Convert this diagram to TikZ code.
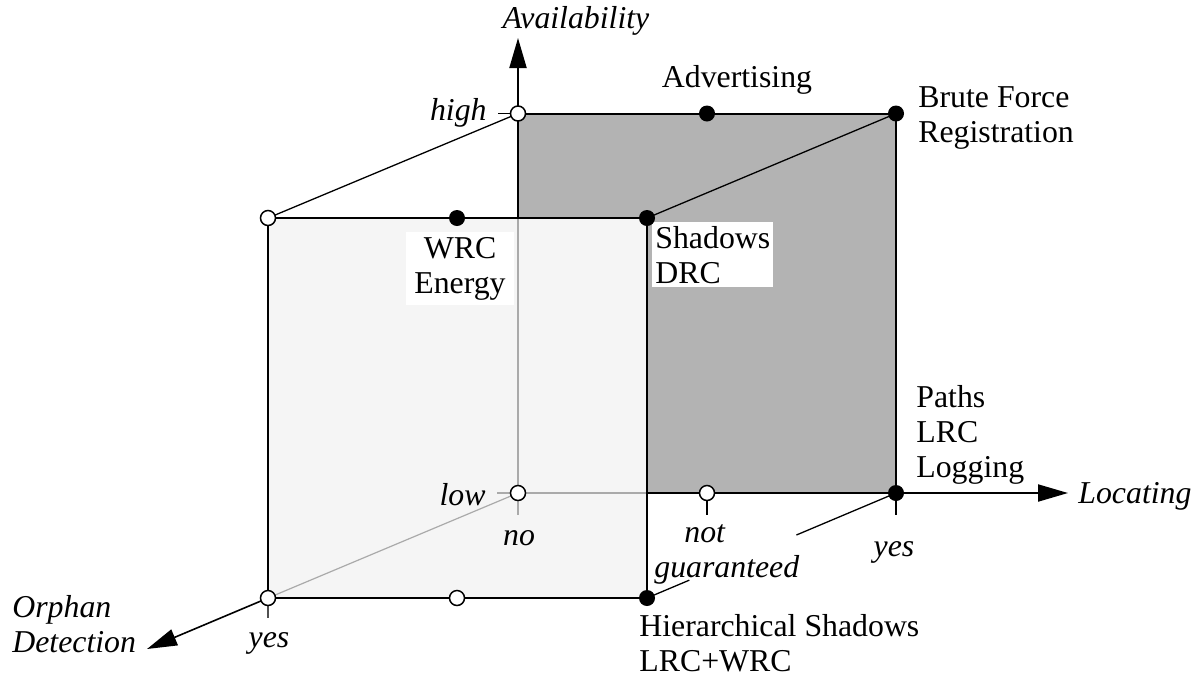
\documentclass[tikz,border=0pt]{standalone}
\usepackage{fontspec}
\setmainfont{Liberation Serif}
\usetikzlibrary{arrows.meta}
\definecolor{darkface}{RGB}{179,179,179}
\definecolor{lightface}{RGB}{245,245,245}
\definecolor{hidden}{RGB}{170,170,170}
\definecolor{tickgray}{RGB}{80,80,80}
\begin{document}
\begin{tikzpicture}[x=0.5pt,y=-0.5pt,
  every node/.style={font=\fontsize{15.9pt}{17.5pt}\selectfont, inner sep=0pt},
  opendot/.style={circle, draw=black, fill=white, line width=0.75pt, minimum size=7.5pt, inner sep=0pt},
  fulldot/.style={circle, fill=black, minimum size=8pt, inner sep=0pt},
  edgeline/.style={line width=1pt},
  diagline/.style={line width=0.65pt},
  hiddenline/.style={draw=hidden, line width=0.6pt},
  axisline/.style={line width=1pt, -{Triangle[length=15pt,width=8.5pt]}},
  tickline/.style={line width=0.8pt},
  lab/.style={align=left},
  itlab/.style={font=\fontsize{15.9pt}{17.5pt}\selectfont\itshape},
  whitebox/.style={fill=white}
]
\useasboundingbox (0,0) rectangle (1200,676);
% cube corners
\coordinate (ftl) at (268,218);
\coordinate (wrc) at (457,218);
\coordinate (shd) at (647,218);
\coordinate (fbl) at (268,598);
\coordinate (fbm) at (457,598);
\coordinate (fbr) at (647,598);
\coordinate (btl) at (518,113.5);
\coordinate (adv) at (707,113.5);
\coordinate (btr) at (896,113.5);
\coordinate (bbl) at (518,493);
\coordinate (bbm) at (707,493);
\coordinate (bbr) at (896,493);
\coordinate (fx) at (518,218);
\coordinate (bx) at (647,493);
% axis tips
\coordinate (avt) at (518,38);
\coordinate (loct) at (1068,493);
\coordinate (orpt) at (147,649);
% tick ends
\coordinate (hight) at (498,113.5);
\coordinate (lowt) at (497,493);
\coordinate (not) at (518,515);
\coordinate (ngt) at (707,515);
\coordinate (yesrt) at (896,515);
\coordinate (yeslt) at (268,618);
% gap in the lower right diagonal (behind the "not guaranteed" label)
\path (fbr) -- (bbr) coordinate[pos=0.17] (gapa) coordinate[pos=0.60] (gapb);

% faces
\fill[darkface] (btl) -- (btr) -- (bbr) -- (bx) -- (shd) -- (fx) -- cycle;
\fill[lightface] (ftl) rectangle (fbr);
% hidden edges
\draw[hiddenline] (fx) -- (bbl) -- (bx);
\draw[hiddenline] (fbl) -- (bbl);
% visible edges
\draw[edgeline] (fx) -- (btl) -- (btr) -- (bbr) -- (bx);
\draw[edgeline] (ftl) -- (shd) -- (fbr) -- (fbl) -- cycle;
\draw[diagline] (ftl) -- (btl);
\draw[diagline] (shd) -- (btr);
\draw[diagline] (fbr) -- (gapa);
\draw[diagline] (gapb) -- (bbr);
% axes
\draw[axisline] (btl) -- (avt);
\draw[axisline] (bbr) -- (loct);
\draw[axisline, line width=0.8pt] (fbl) -- (orpt);
% ticks
\draw[tickline] (hight) -- (btl);
\draw[tickline, draw=hidden] (lowt) -- (bbl);
\draw[tickline, draw=hidden] (bbl) -- (not);
\draw[tickline] (bbm) -- (ngt);
\draw[tickline] (bbr) -- (yesrt);
\draw[tickline, draw=tickgray] (fbl) -- (yeslt);

% labels (multi-line nodes: base anchor sits on the last line)
\node[itlab, anchor=base] (availability) at (576,28) {Availability};
\node[anchor=base] (advertising) at (737,87) {Advertising};
\node[lab, anchor=base west] (brute) at (918,142) {Brute Force\\Registration};
\node[lab, whitebox, anchor=base west, inner xsep=1.5pt, inner ysep=2pt] (shadows) at (652,283) {Shadows\\DRC};
\node[align=center, whitebox, anchor=base, inner xsep=4pt, inner ysep=2.5pt] (wrcenergy) at (460,293) {WRC\\Energy};
\node[lab, anchor=base west] (paths) at (916,477) {Paths\\LRC\\Logging};
\node[itlab, anchor=base east] (high) at (487,120) {high};
\node[itlab, anchor=base east] (low) at (486,505) {low};
\node[itlab, anchor=base] (no) at (519,545) {no};
\node[itlab, align=left, anchor=base west, inner sep=1pt] (notguar) at (652,577) {\hspace*{15pt}not\\guaranteed};
\node[itlab, anchor=base] (yesright) at (894,556) {yes};
\node[itlab, anchor=base west] (locating) at (1078,503) {Locating};
\node[lab, anchor=base west] (hier) at (639,671) {Hierarchical Shadows\\LRC+WRC};
\node[itlab, align=left, anchor=base west] (orphan) at (12,652) {Orphan\\Detection};
\node[itlab, anchor=base] (yesleft) at (269,647) {yes};

% points
\node[opendot] (ftlc) at (ftl) {};
\node[fulldot] (wrcc) at (wrc) {};
\node[fulldot] (shdc) at (shd) {};
\node[opendot] (fblc) at (fbl) {};
\node[opendot] (fbmc) at (fbm) {};
\node[fulldot] (fbrc) at (fbr) {};
\node[opendot] (btlc) at (btl) {};
\node[fulldot] (advc) at (adv) {};
\node[fulldot] (btrc) at (btr) {};
\node[opendot] (bblc) at (bbl) {};
\node[opendot] (bbmc) at (bbm) {};
\node[fulldot] (bbrc) at (bbr) {};
\end{tikzpicture}
\end{document}
